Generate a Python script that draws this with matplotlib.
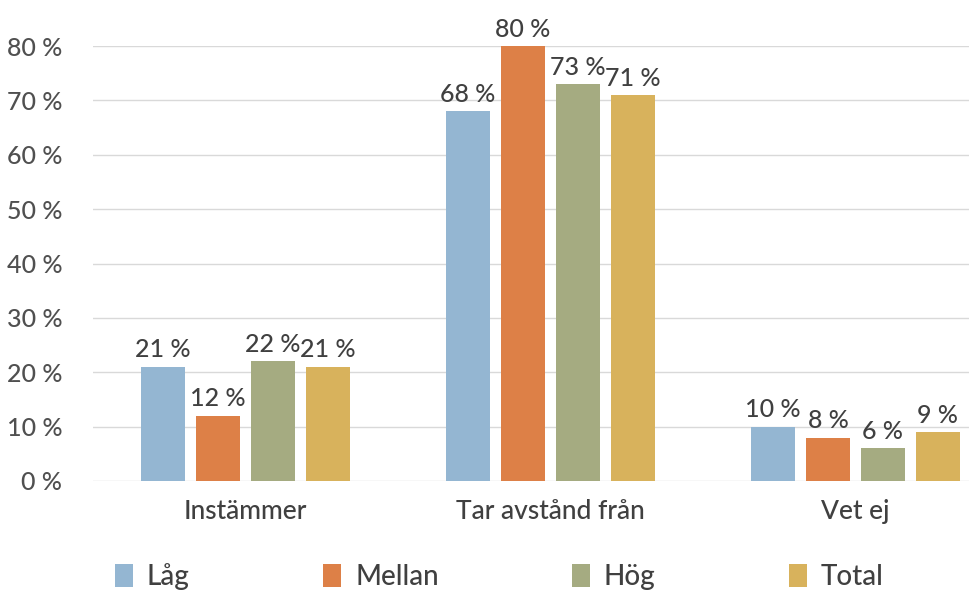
import numpy as np
import matplotlib.pyplot as plt
from matplotlib.patches import Patch

# data
categories = ["Instämmer", "Tar avstånd från", "Vet ej"]
series = ["Låg", "Mellan", "Hög", "Total"]
lag = [21, 68, 10]
mellan = [12, 80, 8]
hog = [22, 73, 6]
total = [21, 71, 9]
yticks = [0, 10, 20, 30, 40, 50, 60, 70, 80]

colors = ["#94b6d2", "#dd8047", "#a5ab81", "#d8b25c"]
values = [lag, mellan, hog, total]

plt.rcParams['font.family'] = ['Lato', 'DejaVu Sans']
plt.rcParams['font.weight'] = 'medium'

fig = plt.figure(figsize=(9.69, 5.93), dpi=100)
# axes run past the right edge like in the reference (cropped image)
ax = fig.add_axes([93 / 969, 112 / 593, 915 / 969, 435 / 593])

x = np.arange(len(categories))
pitch = 0.18
width = 0.145
for k, (name, vals) in enumerate(zip(series, values)):
    pos = x + (k - 1.5) * pitch
    bars = ax.bar(pos, vals, width, color=colors[k], label=name, zorder=2)
    for b, v in zip(bars, vals):
        ax.text(b.get_x() + b.get_width() / 2, v + 1.0, f"{v} %",
                ha="center", va="bottom", fontsize=18, color="#404040")

ax.set_xlim(-0.5, 2.5)
ax.set_ylim(0, 80)
ax.set_yticks(yticks)
ax.set_yticklabels([f"{t} %" for t in yticks])
ax.set_xticks(x)
ax.set_xticklabels(categories)
ax.tick_params(axis="y", length=0, pad=22, labelsize=18, labelcolor="#505050")
ax.tick_params(axis="x", length=0, pad=13, labelsize=19, labelcolor="#404040")
ax.grid(axis="y", color="#d9d9d9", linewidth=1, zorder=0)
for s in ax.spines.values():
    s.set_visible(False)

handles = [Patch(facecolor=c, edgecolor="none") for c in colors]
fig.legend(handles, series, loc="center left", bbox_to_anchor=(90 / 969, 1 - 577 / 593),
           ncol=4, frameon=False, fontsize=20, handlelength=0.65, handleheight=0.9,
           handletextpad=0.5, columnspacing=4.8, labelcolor="#404040")

fig.savefig("out.png", dpi=100)
